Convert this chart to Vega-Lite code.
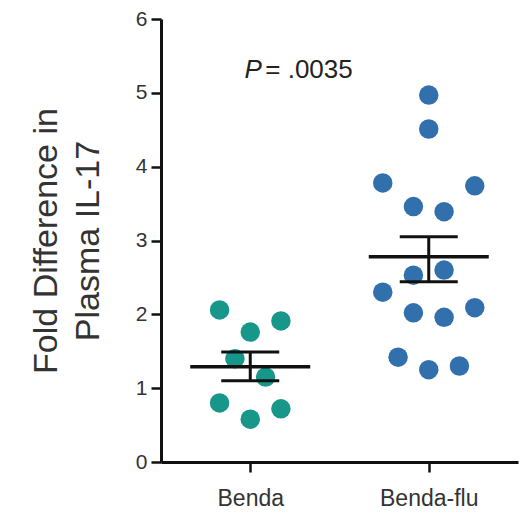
{
  "$schema": "https://vega.github.io/schema/vega-lite/v6.json",
  "autosize": "none",
  "width": 357,
  "height": 443,
  "padding": {"left": 161, "top": 19, "right": 13, "bottom": 54},
  "background": "white",
  "config": {
    "view": {"stroke": null},
    "font": "Liberation Sans"
  },
  "datasets": {
    "points": [
      {"group": "Benda", "value": 2.06, "jitter": -2},
      {"group": "Benda", "value": 1.91, "jitter": 2},
      {"group": "Benda", "value": 1.76, "jitter": 0},
      {"group": "Benda", "value": 1.40, "jitter": -1},
      {"group": "Benda", "value": 1.15, "jitter": 1},
      {"group": "Benda", "value": 0.80, "jitter": -2},
      {"group": "Benda", "value": 0.72, "jitter": 2},
      {"group": "Benda", "value": 0.58, "jitter": 0},
      {"group": "Benda-flu", "value": 4.97, "jitter": 0},
      {"group": "Benda-flu", "value": 4.51, "jitter": 0},
      {"group": "Benda-flu", "value": 3.78, "jitter": -3},
      {"group": "Benda-flu", "value": 3.74, "jitter": 3},
      {"group": "Benda-flu", "value": 3.46, "jitter": -1},
      {"group": "Benda-flu", "value": 3.39, "jitter": 1},
      {"group": "Benda-flu", "value": 2.60, "jitter": 1},
      {"group": "Benda-flu", "value": 2.53, "jitter": -1},
      {"group": "Benda-flu", "value": 2.30, "jitter": -3},
      {"group": "Benda-flu", "value": 2.09, "jitter": 3},
      {"group": "Benda-flu", "value": 2.02, "jitter": -1},
      {"group": "Benda-flu", "value": 1.96, "jitter": 1},
      {"group": "Benda-flu", "value": 1.42, "jitter": -2},
      {"group": "Benda-flu", "value": 1.25, "jitter": 0},
      {"group": "Benda-flu", "value": 1.30, "jitter": 2}
    ],
    "summary": [
      {"group": "Benda", "mean": 1.29, "lo": 1.10, "hi": 1.49},
      {"group": "Benda-flu", "mean": 2.78, "lo": 2.44, "hi": 3.05}
    ]
  },
  "layer": [
    {
      "data": {"name": "points"},
      "mark": {"type": "circle", "size": 380, "opacity": 1},
      "encoding": {
        "x": {
          "field": "group", "type": "nominal",
          "scale": {"type": "point", "padding": 0.5, "domain": ["Benda", "Benda-flu"]},
          "axis": {
            "title": null, "labelAngle": 0,
            "labelFontSize": 23, "labelColor": "#333", "labelPadding": 15,
            "tickSize": 10, "tickWidth": 2.5, "tickColor": "#111",
            "domainWidth": 3, "domainColor": "#111"
          }
        },
        "xOffset": {
          "field": "jitter", "type": "quantitative",
          "scale": {"domain": [-3, 3], "range": [-46, 46]}
        },
        "y": {
          "field": "value", "type": "quantitative",
          "scale": {"domain": [0, 6], "nice": false, "zero": true},
          "axis": {
            "title": ["Fold Difference in", "Plasma IL-17"],
            "titleFontSize": 34, "titleFontWeight": "normal", "titleColor": "#333",
            "titleLineHeight": 42, "titleBaseline": "alphabetic", "titleX": -105,
            "values": [0, 1, 2, 3, 4, 5, 6], "format": "d", "grid": false,
            "labelFontSize": 21, "labelColor": "#333", "labelPadding": 4,
            "tickSize": 10, "tickWidth": 2.5, "tickColor": "#111",
            "domainWidth": 3, "domainColor": "#111"
          }
        },
        "color": {
          "field": "group", "type": "nominal",
          "scale": {"domain": ["Benda", "Benda-flu"], "range": ["#17968a", "#3270ad"]},
          "legend": null
        }
      }
    },
    {
      "data": {"name": "summary"},
      "mark": {"type": "rule", "strokeWidth": 3, "color": "#111"},
      "encoding": {
        "x": {"field": "group", "type": "nominal"},
        "y": {"field": "lo", "type": "quantitative"},
        "y2": {"field": "hi"}
      }
    },
    {
      "data": {"name": "summary"},
      "mark": {"type": "tick", "size": 120, "thickness": 3.5, "color": "#111", "opacity": 1},
      "encoding": {
        "x": {"field": "group", "type": "nominal"},
        "y": {"field": "mean", "type": "quantitative"}
      }
    },
    {
      "data": {"name": "summary"},
      "mark": {"type": "tick", "size": 58, "thickness": 3, "color": "#111", "opacity": 1},
      "encoding": {
        "x": {"field": "group", "type": "nominal"},
        "y": {"field": "lo", "type": "quantitative"}
      }
    },
    {
      "data": {"name": "summary"},
      "mark": {"type": "tick", "size": 58, "thickness": 3, "color": "#111", "opacity": 1},
      "encoding": {
        "x": {"field": "group", "type": "nominal"},
        "y": {"field": "hi", "type": "quantitative"}
      }
    },
    {
      "data": {"values": [{"label": "P", "group": "Benda", "value": 5.2}]},
      "mark": {"type": "text", "fontStyle": "italic", "fontSize": 26, "color": "#222", "align": "center", "baseline": "alphabetic", "dx": 3},
      "encoding": {
        "x": {"field": "group", "type": "nominal"},
        "y": {"field": "value", "type": "quantitative"},
        "text": {"field": "label"}
      }
    },
    {
      "data": {"values": [{"label": "= .0035", "group": "Benda", "value": 5.2}]},
      "mark": {"type": "text", "fontSize": 26, "color": "#222", "align": "left", "baseline": "alphabetic", "dx": 15},
      "encoding": {
        "x": {"field": "group", "type": "nominal"},
        "y": {"field": "value", "type": "quantitative"},
        "text": {"field": "label"}
      }
    }
  ]
}
